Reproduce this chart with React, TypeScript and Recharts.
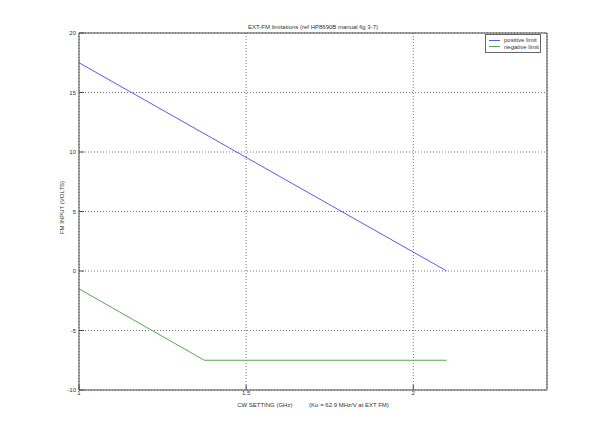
import React from 'react';
import { LineChart, Line, XAxis, YAxis, CartesianGrid, Legend } from 'recharts';

const xPositive = [1, 2.1];
const positiveLimit = [17.5, 0];
const xNegative = [1, 1.375, 2.1];
const negativeLimit = [-1.5, -7.5, -7.5];
const xTicks = [1, 1.5, 2];
const yTicks = [-10, -5, 0, 5, 10, 15, 20];
const seriesNames = ['positive limit', 'negative limit'];
const seriesColors = ['#5a5aec', '#55a855'];

const posData = xPositive.map((x, i) => ({ x, y: positiveLimit[i] }));
const negData = xNegative.map((x, i) => ({ x, y: negativeLimit[i] }));

const FONT = '"Liberation Sans", Arial, sans-serif';
const AXIS = '#4a4a4a';

const tickStyle = { fontSize: 6, fontFamily: FONT, fill: '#333' };

const LegendBox = () => (
  <div
    style={{
      border: '1px solid #666',
      background: '#fff',
      width: 56,
      height: 19,
      boxSizing: 'border-box',
      fontFamily: FONT,
      fontSize: 6,
      color: '#333',
      padding: '2px 0 0 3px',
      whiteSpace: 'nowrap',
    }}
  >
    {seriesNames.map((n, i) => (
      <div key={n} style={{ display: 'flex', alignItems: 'center', height: 6.5, lineHeight: '6.5px' }}>
        <span style={{ display: 'inline-block', width: 11, height: 0, borderTop: `1px solid ${seriesColors[i]}`, marginRight: 4 }} />
        <span>{n}</span>
      </div>
    ))}
  </div>
);

export default function App() {
  return (
    <div style={{ position: 'absolute', left: 0, top: 0, width: 604, height: 438, background: '#fff' }}>
      <LineChart width={604} height={438} margin={{ top: 32, right: 56, bottom: 28, left: 49 }}>
        <CartesianGrid stroke="#555" strokeDasharray="1 2" strokeWidth={0.8} />
        <XAxis
          type="number"
          dataKey="x"
          domain={[1, 2.4]}
          ticks={xTicks}
          height={20}
          allowDataOverflow
          stroke={AXIS}
          tickSize={-5}
          tickMargin={6}
          tick={tickStyle}
          label={{
            content: (props: any) => {
              const vb = props.viewBox || {};
              const cx = vb.x + vb.width / 2;
              return (
                <text x={cx} y={vb.y + 17} textAnchor="middle" style={{ fontSize: 6, fontFamily: FONT, fill: '#333', whiteSpace: 'pre' }}>
                  CW SETTING (GHz)          (Ko = 62.9 MHz/V at EXT FM)
                </text>
              );
            },
          }}
        />
        <XAxis
          xAxisId="top"
          orientation="top"
          type="number"
          dataKey="x"
          domain={[1, 2.4]}
          ticks={xTicks}
          height={1}
          allowDataOverflow
          stroke={AXIS}
          tickSize={-5}
          tick={false}
          label={{
            content: (props: any) => {
              const vb = props.viewBox || {};
              const cx = vb.x + vb.width / 2;
              return (
                <text x={cx} y={vb.y - 3} textAnchor="middle" style={{ fontSize: 6, fontFamily: FONT, fill: '#333' }}>
                  EXT-FM limitations (ref HP8690B manual fig 3-7)
                </text>
              );
            },
          }}
        />
        <YAxis
          type="number"
          domain={[-10, 20]}
          ticks={yTicks}
          width={30}
          allowDataOverflow
          stroke={AXIS}
          tickSize={-5}
          tickMargin={8}
          tick={tickStyle}
          label={{
            content: (props: any) => {
              const vb = props.viewBox || {};
              const cx = vb.x + vb.width - 15;
              const cy = vb.y + vb.height / 2 - 4;
              return (
                <text x={cx} y={cy} textAnchor="middle" transform={`rotate(-90 ${cx} ${cy})`} style={{ fontSize: 6, fontFamily: FONT, fill: '#333' }}>
                  FM INPUT (VOLTS)
                </text>
              );
            },
          }}
        />
        <YAxis
          yAxisId="right"
          orientation="right"
          type="number"
          domain={[-10, 20]}
          ticks={yTicks}
          width={1}
          allowDataOverflow
          stroke={AXIS}
          tickSize={-5}
          tick={false}
        />
        <Legend
          layout="vertical"
          align="center"
          verticalAlign="middle"
          wrapperStyle={{ position: 'absolute', top: 34, left: 485, width: 56, height: 19 }}
          content={() => <LegendBox />}
        />
        <Line data={posData} dataKey="y" name={seriesNames[0]} stroke={seriesColors[0]} strokeWidth={1} dot={false} isAnimationActive={false} />
        <Line data={negData} dataKey="y" name={seriesNames[1]} stroke={seriesColors[1]} strokeWidth={1} dot={false} isAnimationActive={false} />
      </LineChart>
    </div>
  );
}
